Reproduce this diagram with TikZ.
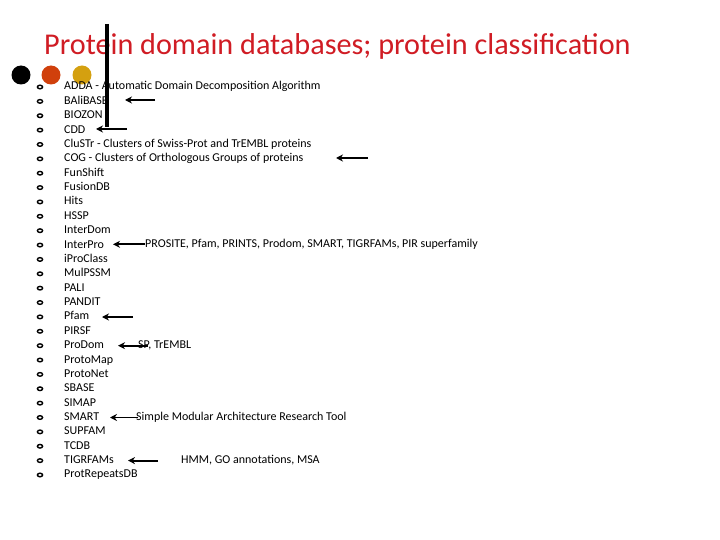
\documentclass[tikz,border=0pt]{standalone}
\usepackage{fontspec}
\setmainfont{Carlito}
\usetikzlibrary{arrows.meta}
\definecolor{titlered}{HTML}{D01C24}
\definecolor{dotorange}{HTML}{D0400C}
\definecolor{dotgold}{HTML}{D4A010}
\begin{document}
\begin{tikzpicture}[x=1pt,y=-1pt,
  item/.style={anchor=west,inner sep=0pt,text height=8pt,text depth=2pt,font=\fontsize{12}{13}\selectfont},
  bul/.style={draw,line width=1.4pt,x radius=2.6,y radius=1.8},
  arr/.style={line width=1.8pt,-{Stealth[length=7pt,width=7pt]}},
  note/.style={anchor=west,inner sep=0pt,text height=8pt,text depth=2pt,font=\fontsize{12}{13}\selectfont}]
\useasboundingbox (0,0) rectangle (720,540);
\node[anchor=base west,inner sep=0pt,text=titlered,font=\fontsize{30.2}{34}\selectfont] (title) at (44,55) {Protein domain databases; protein classification};
\fill[black] (21,75) circle (9.5);
\fill[dotorange] (51,75) circle (9.5);
\fill[dotgold] (82,75) circle (9.5);
\def\items{ADDA - Automatic Domain Decomposition Algorithm,BAliBASE,BIOZON,CDD,CluSTr - Clusters of Swiss-Prot and TrEMBL proteins,COG - Clusters of Orthologous Groups of proteins,FunShift,FusionDB,Hits,HSSP,InterDom,InterPro,iProClass,MulPSSM,PALI,PANDIT,Pfam,PIRSF,ProDom,ProtoMap,ProtoNet,SBASE,SIMAP,SMART,SUPFAM,TCDB,TIGRFAMs,ProtRepeatsDB}
\foreach \t [count=\i] in \items {
  \pgfmathsetmacro{\yy}{87+(\i-1)*14.37}
  \draw[bul] (40,\yy) ellipse [];
  \node[item] (it\i) at (64,\yy) {\t};
}
\draw[line width=4pt] (107,24) -- (107,127);
\coordinate (a1) at (155,100); \draw[arr] (a1) -- (125,100);
\coordinate (a2) at (127,129); \draw[arr] (a2) -- (96,129);
\coordinate (a3) at (368,158); \draw[arr] (a3) -- (336,158);
\node[note] (n1) at (145,244.3) {PROSITE, Pfam, PRINTS, Prodom, SMART, TIGRFAMs, PIR superfamily};
\draw[arr] (n1.west) -- (113,244.3);
\coordinate (a4) at (133,317) ; \draw[arr] (a4) -- (102,317);
\node[note] (n2) at (138,345.7) {SP, TrEMBL};
\draw[arr] (148,345.7) -- (118,345.7);
\node[note] (n3) at (136,417.5) {Simple Modular Architecture Research Tool};
\draw[arr] (138,417.5) -- (110,417.5);
\node[note] (n4) at (181,460.6) {HMM, GO annotations, MSA};
\coordinate (a5) at (158,460.6); \draw[arr] (a5) -- (128,460.6);
\end{tikzpicture}
\end{document}
